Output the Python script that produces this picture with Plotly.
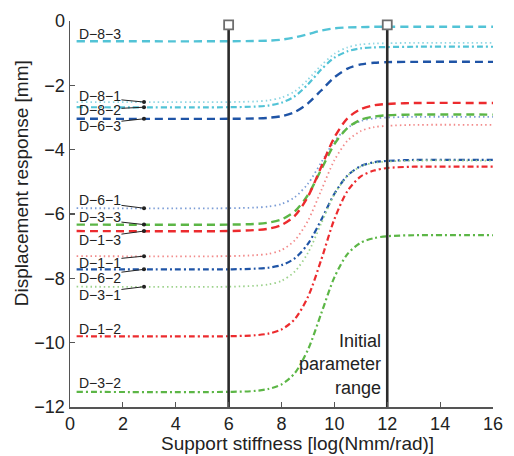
import plotly.graph_objects as go

# Support stiffness sample positions [log(Nmm/rad)]
stiffness = [0.25, 6, 7, 7.5, 8, 8.5, 9, 9.5, 10, 10.5, 11, 11.5, 12, 13, 16]

d_8_3 = [-0.63, -0.63, -0.62, -0.61, -0.58, -0.51, -0.41, -0.30, -0.23, -0.20, -0.19, -0.18, -0.18, -0.18, -0.18]
d_8_1 = [-2.52, -2.52, -2.50, -2.47, -2.38, -2.19, -1.82, -1.38, -1.02, -0.82, -0.73, -0.70, -0.69, -0.68, -0.68]
d_8_2 = [-2.68, -2.68, -2.66, -2.63, -2.54, -2.34, -1.97, -1.51, -1.14, -0.94, -0.85, -0.82, -0.81, -0.80, -0.80]
d_6_3 = [-3.04, -3.04, -3.03, -3.01, -2.96, -2.83, -2.56, -2.16, -1.75, -1.48, -1.35, -1.30, -1.28, -1.27, -1.27]
d_6_1 = [-5.82, -5.82, -5.80, -5.77, -5.69, -5.48, -5.06, -4.40, -3.74, -3.32, -3.11, -3.03, -3.00, -2.98, -2.98]
d_3_3 = [-6.33, -6.33, -6.31, -6.27, -6.17, -5.92, -5.41, -4.62, -3.83, -3.32, -3.07, -2.97, -2.93, -2.91, -2.91]
d_1_3 = [-6.53, -6.53, -6.50, -6.46, -6.34, -6.06, -5.46, -4.54, -3.62, -3.02, -2.74, -2.62, -2.58, -2.55, -2.55]
d_1_1 = [-7.31, -7.31, -7.28, -7.24, -7.12, -6.82, -6.21, -5.27, -4.33, -3.72, -3.42, -3.30, -3.26, -3.23, -3.23]
d_6_2 = [-7.72, -7.72, -7.70, -7.67, -7.59, -7.38, -6.93, -6.19, -5.37, -4.80, -4.51, -4.39, -4.35, -4.32, -4.32]
d_3_1 = [-8.26, -8.26, -8.23, -8.19, -8.08, -7.79, -7.21, -6.30, -5.39, -4.81, -4.52, -4.41, -4.37, -4.34, -4.34]
d_1_2 = [-9.80, -9.80, -9.77, -9.72, -9.59, -9.27, -8.58, -7.43, -6.16, -5.28, -4.83, -4.65, -4.57, -4.53, -4.53]
d_3_2 = [-11.53, -11.53, -11.50, -11.44, -11.30, -10.95, -10.22, -9.10, -7.97, -7.24, -6.89, -6.75, -6.69, -6.66, -6.66]

# Initial parameter range bounds
range_x = [6, 12]
range_top = -0.12
range_bottom = -12

x_ticks = [0, 2, 4, 6, 8, 10, 12, 14, 16]
y_ticks = [0, -2, -4, -6, -8, -10, -12]

FONT = "Liberation Sans, Arial, sans-serif"

CYAN, CYAN_L = "#52c3d6", "#8fd6e3"
BLUE, BLUE_L = "#1f54a6", "#7c9dd6"
GREEN, GREEN_L = "#5cb646", "#9dd28c"
RED, RED_L = "#ec2b2e", "#f28b8b"

DASH = "8px,5px"
DASHDOT = "6px,3px,2px,3px"
DOT = "1.5px,3px"

series = [
    ("D−8−3", d_8_3, CYAN, DASH, 2.4),
    ("D−8−1", d_8_1, CYAN_L, DOT, 1.8),
    ("D−8−2", d_8_2, CYAN, DASHDOT, 2.2),
    ("D−6−3", d_6_3, BLUE, DASH, 2.4),
    ("D−6−1", d_6_1, BLUE_L, DOT, 1.8),
    ("D−6−2", d_6_2, BLUE, DASHDOT, 2.2),
    ("D−3−3", d_3_3, GREEN, DASH, 2.4),
    ("D−3−1", d_3_1, GREEN_L, DOT, 1.8),
    ("D−3−2", d_3_2, GREEN, DASHDOT, 2.2),
    ("D−1−3", d_1_3, RED, DASH, 2.4),
    ("D−1−1", d_1_1, RED_L, DOT, 1.8),
    ("D−1−2", d_1_2, RED, DASHDOT, 2.2),
]

fig = go.Figure()
for name, ys, color, dash, w in series:
    fig.add_trace(go.Scatter(
        x=stiffness, y=ys, mode="lines", name=name,
        line=dict(color=color, dash=dash, width=w, shape="spline", smoothing=0.8),
        showlegend=False, hoverinfo="skip"))

for xv in range_x:
    fig.add_trace(go.Scatter(
        x=[xv, xv], y=[range_bottom, range_top], mode="lines",
        line=dict(color="#2b2b2b", width=2.6), showlegend=False, hoverinfo="skip"))
    fig.add_trace(go.Scatter(
        x=[xv], y=[range_top], mode="markers",
        marker=dict(symbol="square", size=9, color="white",
                    line=dict(color="#6e6e6e", width=1.8)),
        showlegend=False, hoverinfo="skip", cliponaxis=False))

lookup = {name: ys for name, ys, *_ in series}

# labels: (name, text y, arrow?)
label_info = [
    ("D−8−3", -0.40, False),
    ("D−8−1", -2.32, True),
    ("D−8−2", -2.78, True),
    ("D−6−3", -3.26, True),
    ("D−6−1", -5.56, True),
    ("D−3−3", -6.10, True),
    ("D−1−3", -6.81, True),
    ("D−1−1", -7.51, True),
    ("D−6−2", -7.98, True),
    ("D−3−1", -8.51, True),
    ("D−1−2", -9.57, False),
    ("D−3−2", -11.25, False),
]
annotations = []
for name, ty, arrow in label_info:
    if arrow:
        annotations.append(dict(
            x=2.8, y=lookup[name][0], xref="x", yref="y",
            ax=0.3, ay=ty, axref="x", ayref="y",
            text=name, showarrow=True, xanchor="left", yanchor="middle",
            arrowhead=6, arrowsize=1.0, arrowwidth=1, arrowcolor="#222",
            standoff=0, startstandoff=0,
            font=dict(family=FONT, size=14, color="#222"), borderpad=0))
    else:
        annotations.append(dict(
            x=0.3, y=ty, xref="x", yref="y", text=name, showarrow=False,
            xanchor="left", yanchor="middle", borderpad=0,
            font=dict(family=FONT, size=14, color="#222")))

annotations.append(dict(
    x=11.83, y=-10.67, xref="x", yref="y", text="Initial<br>parameter<br>range",
    showarrow=False, xanchor="right", yanchor="middle", align="right",
    font=dict(family=FONT, size=18, color="#222")))

annotations.append(dict(
    x=0.538, y=-0.095, xref="paper", yref="paper",
    text="Support stiffness [log(Nmm/rad)]", showarrow=False,
    xanchor="center", yanchor="middle",
    font=dict(family=FONT, size=19, color="#222")))
annotations.append(dict(
    x=-0.1155, y=0.58, xref="paper", yref="paper",
    text="Displacement response [mm]", showarrow=False, textangle=-90,
    xanchor="center", yanchor="middle",
    font=dict(family=FONT, size=19, color="#222")))

axis_common = dict(
    showgrid=False, zeroline=False, showline=True, linecolor="#555", linewidth=1.5,
    ticks="inside", ticklen=5, tickwidth=1.2, tickcolor="#555",
    tickfont=dict(family=FONT, size=18, color="#222"), mirror=False)

fig.update_layout(
    width=514, height=456,
    margin=dict(l=70, r=11, t=12, b=49),
    plot_bgcolor="white", paper_bgcolor="white",
    xaxis=dict(range=[0, 16], tickvals=x_ticks, **axis_common),
    yaxis=dict(range=[-12, 0], tickvals=y_ticks, **axis_common),
    annotations=annotations,
)

fig.write_html(
    "out.html",
    config={"displayModeBar": False, "staticPlot": True},
    post_script=(
        "document.documentElement.style.overflow='hidden';"
        "document.body.style.margin='0px';document.body.style.overflow='hidden';"
        "var d=document.getElementById('{plot_id}');"
        "d.style.position='absolute';d.style.left='0px';d.style.top='0px';"
    ),
)
